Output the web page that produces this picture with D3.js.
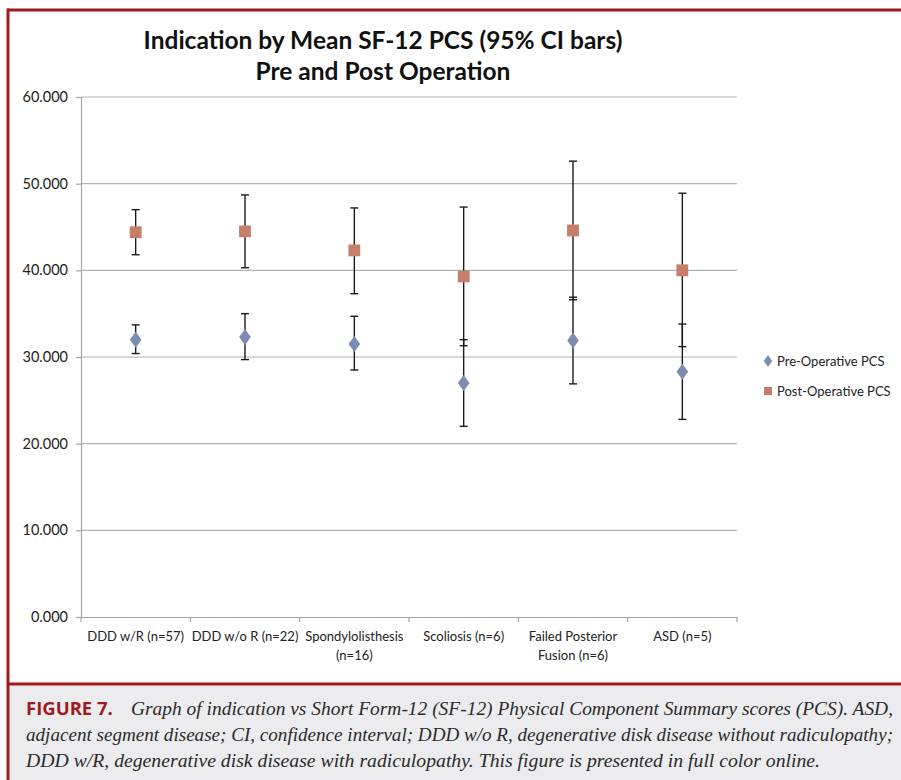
<!DOCTYPE html>
<html>
<head>
<meta charset="utf-8">
<script src="https://cdn.jsdelivr.net/npm/d3@7"></script>
<style>
  body { margin: 0; background: #fff; }
  svg { display: block; }
</style>
</head>
<body>
<div id="chart"></div>
<script>
var categories = ['DDD w/R (n=57)', 'DDD w/o R (n=22)', 'Spondylolisthesis|(n=16)', 'Scoliosis (n=6)', 'Failed Posterior|Fusion (n=6)', 'ASD (n=5)'];

var preMean  = [32.0, 32.3, 31.5, 27.0, 31.9, 28.3];
var preLow   = [30.4, 29.7, 28.5, 22.0, 26.9, 22.8];
var preHigh  = [33.7, 35.0, 34.7, 32.0, 36.9, 33.8];

var postMean = [44.4, 44.5, 42.3, 39.3, 44.6, 40.0];
var postLow  = [41.8, 40.3, 37.3, 31.3, 36.6, 31.2];
var postHigh = [47.0, 48.7, 47.2, 47.3, 52.6, 48.9];

var yTicks = [0, 10, 20, 30, 40, 50, 60];

var seriesNames = ['Pre-Operative PCS', 'Post-Operative PCS'];

var captionLines = [
	'Graph of indication vs Short Form-12 (SF-12) Physical Component Summary scores (PCS). ASD,',
	'adjacent segment disease; CI, confidence interval; DDD w/o R, degenerative disk disease without radiculopathy;',
	'DDD w/R, degenerative disk disease with radiculopathy. This figure is presented in full color online.'
];

var width = 901,
	height = 780,
	margin = {left: 81, right: 164, top: 97, bottom: 163},
	red = '#9e1b20',
	preColor = '#7d8db1',
	postColor = '#c67e6b',
	chartFont = 'Lato, "Open Sans", sans-serif';

var svg = d3.select('#chart').append('svg')
	.attr('width', width)
	.attr('height', height);

// caption panel
svg.append('rect')
	.attr('x', 9).attr('y', 684)
	.attr('width', width - 9).attr('height', height - 684)
	.attr('fill', '#ececee');

// red frame
svg.append('line').attr('x1', 7.5).attr('x2', width).attr('y1', 10).attr('y2', 10)
	.attr('stroke', red).attr('stroke-width', 3);
svg.append('line').attr('x1', 8).attr('x2', 8).attr('y1', 8.5).attr('y2', height)
	.attr('stroke', red).attr('stroke-width', 3);
svg.append('line').attr('x1', 7.5).attr('x2', width).attr('y1', 684).attr('y2', 684)
	.attr('stroke', red).attr('stroke-width', 3);

var x = d3.scaleBand()
	.domain(categories)
	.range([margin.left, width - margin.right]);

var y = d3.scaleLinear()
	.domain([0, 60])
	.range([height - margin.bottom, margin.top]);

// gridlines
svg.append('g')
	.selectAll('line')
	.data(yTicks.slice(1))
	.enter().append('line')
	.attr('x1', margin.left)
	.attr('x2', width - margin.right)
	.attr('y1', function(d) { return y(d); })
	.attr('y2', function(d) { return y(d); })
	.attr('stroke', '#b3b3b3')
	.attr('stroke-width', 1.2);

// y axis
var yAxis = svg.append('g')
	.attr('transform', 'translate(' + margin.left + ',0)')
	.call(d3.axisLeft(y).tickValues(yTicks).tickFormat(d3.format('.3f')).tickSize(5).tickPadding(8));
yAxis.selectAll('path, line').attr('stroke', '#a6a6a6').attr('stroke-width', 1.2);
yAxis.selectAll('text').attr('font-family', chartFont).attr('font-size', 14.5).attr('fill', '#222');

// x axis
var xAxis = svg.append('g')
	.attr('transform', 'translate(0,' + y(0) + ')')
	.call(d3.axisBottom(x).tickSize(0).tickFormat(''));
xAxis.select('path').attr('stroke', '#a6a6a6').attr('stroke-width', 1.2);

svg.append('g')
	.selectAll('line')
	.data(categories.concat(['end']))
	.enter().append('line')
	.attr('x1', function(d, i) { return i < categories.length ? x(d) : x.range()[1]; })
	.attr('x2', function(d, i) { return i < categories.length ? x(d) : x.range()[1]; })
	.attr('y1', y(0))
	.attr('y2', y(0) + 5)
	.attr('stroke', '#a6a6a6')
	.attr('stroke-width', 1.2);

svg.append('g')
	.selectAll('text')
	.data(categories)
	.enter().append('text')
	.attr('text-anchor', 'middle')
	.attr('font-family', chartFont)
	.attr('font-size', 13)
	.attr('fill', '#222')
	.each(function(d) {
		var t = d3.select(this);
		d.split('|').forEach(function(s, j) {
			t.append('tspan')
				.attr('x', x(d) + x.bandwidth() / 2)
				.attr('y', y(0) + 24 + j * 19)
				.text(s);
		});
	});

// error bars
function drawBars(low, high, cls) {
	var g = svg.append('g').attr('class', cls);
	var capW = 4;
	categories.forEach(function(c, i) {
		var cx = x(c) + x.bandwidth() / 2;
		g.append('line')
			.attr('x1', cx).attr('x2', cx)
			.attr('y1', y(low[i])).attr('y2', y(high[i]))
			.attr('stroke', '#1c1c1c').attr('stroke-width', 1.4);
		[low[i], high[i]].forEach(function(v) {
			g.append('line')
				.attr('x1', cx - capW).attr('x2', cx + capW)
				.attr('y1', y(v)).attr('y2', y(v))
				.attr('stroke', '#1c1c1c').attr('stroke-width', 1.4);
		});
	});
}
drawBars(preLow, preHigh, 'pre-bars');
drawBars(postLow, postHigh, 'post-bars');

var diamond = d3.symbol().type(d3.symbolDiamond).size(75);
var square = d3.symbol().type(d3.symbolSquare).size(140);

svg.append('g')
	.selectAll('path')
	.data(preMean)
	.enter().append('path')
	.attr('d', diamond)
	.attr('transform', function(d, i) { return 'translate(' + (x(categories[i]) + x.bandwidth() / 2) + ',' + y(d) + ') scale(1.25,1)'; })
	.attr('fill', preColor);

svg.append('g')
	.selectAll('path')
	.data(postMean)
	.enter().append('path')
	.attr('d', square)
	.attr('transform', function(d, i) { return 'translate(' + (x(categories[i]) + x.bandwidth() / 2) + ',' + y(d) + ')'; })
	.attr('fill', postColor);

// title
svg.append('text')
	.attr('text-anchor', 'middle')
	.attr('font-family', chartFont)
	.attr('font-weight', 'bold')
	.attr('font-size', 24.5)
	.attr('fill', '#111')
	.selectAll('tspan')
	.data(['Indication by Mean SF-12 PCS (95% CI bars)', 'Pre and Post Operation'])
	.enter().append('tspan')
	.attr('x', 383)
	.attr('y', function(d, i) { return 49 + i * 31; })
	.text(function(d) { return d; });

// legend
var legend = svg.append('g').attr('transform', 'translate(768,361)');
legend.append('path').attr('d', d3.symbol().type(d3.symbolDiamond).size(40)).attr('transform', 'scale(1.25,1)').attr('fill', preColor);
legend.append('path').attr('d', d3.symbol().type(d3.symbolSquare).size(64)).attr('transform', 'translate(0,30)').attr('fill', postColor);
legend.selectAll('text')
	.data(seriesNames)
	.enter().append('text')
	.attr('x', 9)
	.attr('y', function(d, i) { return i * 30 + 5; })
	.attr('font-family', chartFont)
	.attr('font-size', 13)
	.attr('fill', '#222')
	.text(function(d) { return d; });

// caption
svg.append('text')
	.attr('x', 26).attr('y', 715)
	.attr('font-family', '"Open Sans", Lato, sans-serif')
	.attr('font-weight', 'bold')
	.attr('font-size', 18.5)
	.attr('fill', red)
	.text('FIGURE 7.');

var capFont = '"Liberation Serif", "DejaVu Serif", serif';
var capStart = [131, 26, 26];
var capEnd = [893, 893, 820];
captionLines.forEach(function(line, i) {
	svg.append('text')
		.attr('x', capStart[i])
		.attr('y', 715 + i * 26)
		.attr('font-family', capFont)
		.attr('font-style', 'italic')
		.attr('font-size', 18.5)
		.attr('fill', '#2b2b2b')
		.attr('textLength', capEnd[i] - capStart[i])
		.attr('lengthAdjust', 'spacingAndGlyphs')
		.text(line);
});
</script>
</body>
</html>
